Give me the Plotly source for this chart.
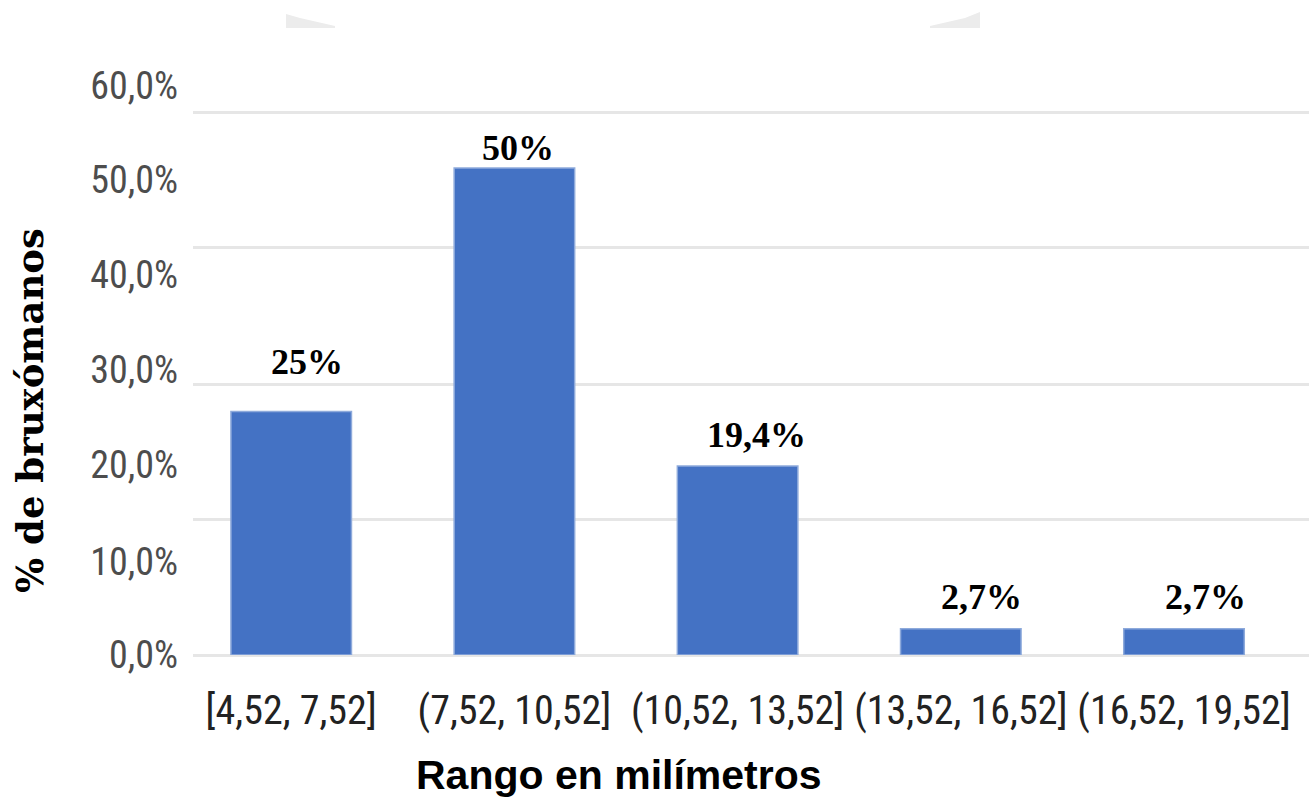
import plotly.graph_objects as go

# ---------------- data ----------------
categories = ["[4,52, 7,52]", "(7,52, 10,52]", "(10,52, 13,52]",
              "(13,52, 16,52]", "(16,52, 19,52]"]
values = [25, 50, 19.4, 2.7, 2.7]
value_labels = ["25%", "50%", "19,4%", "2,7%", "2,7%"]
y_tick_labels = ["0,0%", "10,0%", "20,0%", "30,0%", "40,0%", "50,0%", "60,0%"]

# ---------------- layout helpers (positions / styles) ----------------
W, H = 1309, 807
ML, MR, MT, MB = 193, 0, 75, 152
Y_MAX = 59.55
y_tick_positions = [0, 9.6, 19.5, 29.3, 39.0, 48.8, 58.5]
grid_positions = [0, 13.9, 27.8, 41.8, 55.7]
label_dx = [16, 4, 19, 21, 21]
label_dy = [50, 20, 31, 32, 32]

BAR_COLOR = "#4472C4"
GRID_COLOR = "#e6e6e6"
NARROW = "Liberation Sans Narrow, Arial Narrow, Roboto Condensed, DejaVu Sans Condensed, Arial, sans-serif"

pw, ph = W - ML - MR, H - MT - MB


def px(x, y):
    return (x - ML) / pw, (H - MB - y) / ph


fig = go.Figure()
# invisible helper trace so the grid axis (y) is rendered
fig.add_trace(go.Scatter(
    x=categories, y=values, yaxis="y", mode="markers",
    marker=dict(opacity=0), hoverinfo="skip", showlegend=False,
))
fig.add_trace(go.Bar(
    x=categories, y=values, yaxis="y2",
    marker=dict(color=BAR_COLOR, line=dict(color="#8eaadb", width=1.5)),
    width=0.54, hoverinfo="skip", showlegend=False,
))

annotations = []
for c, v, t, dx, dy in zip(categories, values, value_labels, label_dx, label_dy):
    annotations.append(dict(
        x=c, y=v, xref="x", yref="y2", text=t, showarrow=False,
        xanchor="center", yanchor="middle", xshift=dx, yshift=dy,
        font=dict(family="Liberation Serif, Times New Roman, serif", size=36,
                  color="#000000", weight="bold"),
    ))

tx, ty = px(30, 411)
annotations.append(dict(
    x=tx, y=ty, xref="paper", yref="paper", text="% de bruxómanos",
    showarrow=False, textangle=-90, xanchor="center", yanchor="middle",
    font=dict(family="DejaVu Serif, serif", size=37, color="#000000", weight="bold"),
))
tx, ty = px(619, 775)
annotations.append(dict(
    x=tx, y=ty, xref="paper", yref="paper", text="Rango en milímetros",
    showarrow=False, xanchor="center", yanchor="middle",
    font=dict(family="Liberation Sans, Arial, sans-serif", size=41, color="#000000",
              weight="bold"),
))

# faint cropped decoration at the top of the image
shapes = []
for pts in ([(286, 14), (300, 18), (335, 26), (335, 28), (286, 28)],
            [(980, 12), (965, 18), (930, 26), (930, 28), (980, 28)]):
    path = "M " + " L ".join(f"{px(a, b)[0]},{px(a, b)[1]}" for a, b in pts) + " Z"
    shapes.append(dict(type="path", path=path, xref="paper", yref="paper",
                       fillcolor="#ececec", line=dict(width=0), layer="below"))

fig.update_layout(
    width=W, height=H,
    margin=dict(l=ML, r=MR, t=MT, b=MB, pad=0),
    paper_bgcolor="white", plot_bgcolor="white",
    bargap=0.46,
    showlegend=False,
    xaxis=dict(
        type="category", range=[-0.44, 4.56],
        showgrid=False, showline=False, zeroline=False, ticks="",
        tickfont=dict(family=NARROW, size=40, color="#222222"),
        ticklabelstandoff=28,
    ),
    yaxis=dict(
        range=[0, Y_MAX], tickvals=grid_positions, showticklabels=False,
        showgrid=True, gridcolor=GRID_COLOR, gridwidth=3,
        zeroline=True, zerolinecolor=GRID_COLOR, zerolinewidth=3,
        showline=False, ticks="",
    ),
    yaxis2=dict(
        overlaying="y", side="left", anchor="x",
        range=[0, Y_MAX], tickvals=y_tick_positions, ticktext=y_tick_labels,
        showgrid=False, zeroline=False, showline=False, ticks="",
        tickfont=dict(family=NARROW, size=38, color="#4d4d4d"),
        ticklabelstandoff=14,
    ),
    annotations=annotations,
    shapes=shapes,
)

fig.write_html("out.html")
